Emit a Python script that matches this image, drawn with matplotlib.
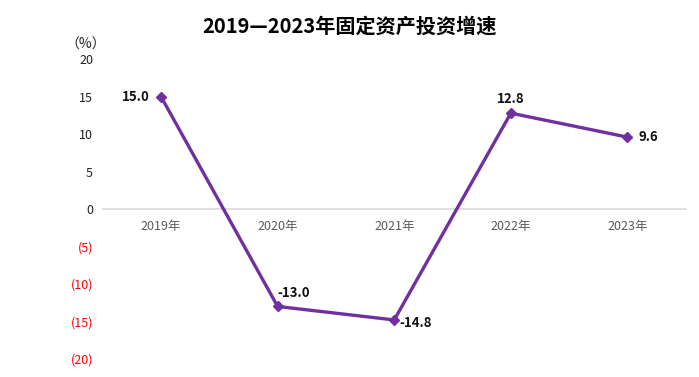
import numpy as np
import matplotlib.pyplot as plt
from matplotlib.ticker import FuncFormatter

plt.rcParams['font.family'] = ['Noto Sans CJK SC', 'DejaVu Sans']

# data
years = ['2019年', '2020年', '2021年', '2022年', '2023年']
growth = [15.0, -13.0, -14.8, 12.8, 9.6]

fig = plt.figure(figsize=(6.99, 3.77), dpi=100)
ax = fig.add_axes([0.147, 0.048, 0.834, 0.795])

x = np.arange(len(years))
ax.plot(x, growth, color='#7030A0', lw=2.4, marker='D', markersize=5, zorder=3)

# data labels: (dx, dy) offsets in points and alignment
offsets = [(-8, 0, 'right', 'center'),
           (0, 5, 'left', 'bottom'),
           (4, -2, 'left', 'center'),
           (0, 5, 'center', 'bottom'),
           (8, 0, 'left', 'center')]
for xi, v, (dx, dy, ha, va) in zip(x, growth, offsets):
    ax.annotate(f'{v:.1f}', (xi, v), xytext=(dx, dy), textcoords='offset points',
                ha=ha, va=va, fontsize=9.5, fontweight='bold', color='#111111')

ax.set_xlim(-0.5, len(years) - 0.5)
ax.set_ylim(-20, 20)
ax.set_yticks(np.arange(-20, 21, 5))
ax.yaxis.set_major_formatter(FuncFormatter(lambda v, p: f'({abs(v):.0f})' if v < 0 else f'{v:.0f}'))
for lab, v in zip(ax.get_yticklabels(), np.arange(-20, 21, 5)):
    lab.set_color('red' if v < 0 else '#222222')
ax.tick_params(axis='y', length=0, labelsize=9, pad=7)

ax.set_xticks(x)
ax.set_xticklabels(years)
ax.tick_params(axis='x', length=0, labelsize=9, labelcolor='#595959', pad=8)

for s in ['top', 'right', 'left']:
    ax.spines[s].set_visible(False)
ax.spines['bottom'].set_position(('data', 0))
ax.spines['bottom'].set_color('#d9d9d9')
ax.spines['bottom'].set_linewidth(1.2)

ax.text(-0.03, 1.05, '（%）', transform=ax.transAxes, fontsize=10, ha='center', va='center', color='#222222')
fig.text(0.5, 0.93, '2019—2023年固定资产投资增速', ha='center', va='center', fontsize=14.5, fontweight='bold')

fig.savefig('out.png', dpi=100)
